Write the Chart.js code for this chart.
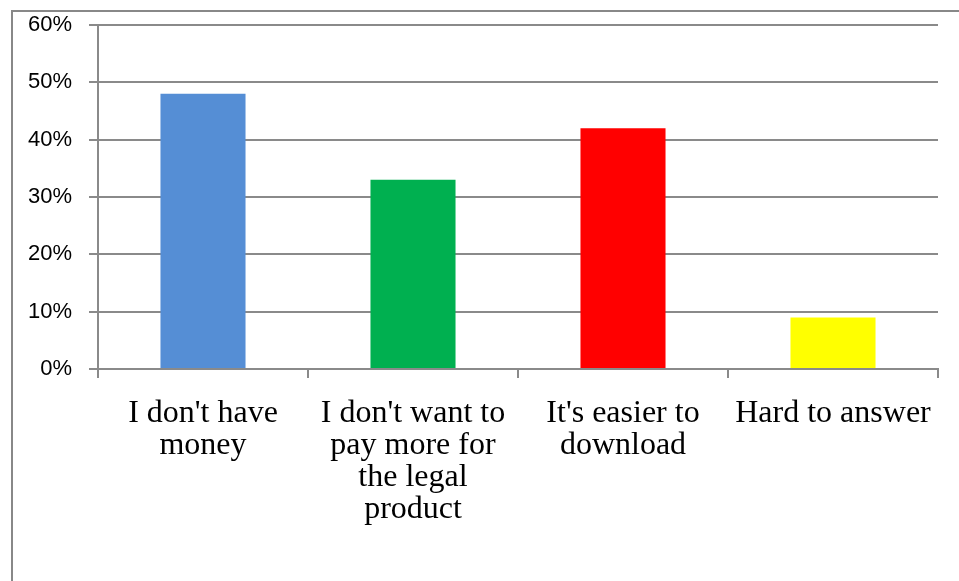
<!DOCTYPE html>
<html>
<head>
<meta charset="utf-8">
<script src="https://cdn.jsdelivr.net/npm/chart.js@4"></script>
<style>
  html, body { margin: 0; padding: 0; background: #fff; overflow: hidden; }
  #wrap { position: relative; width: 959px; height: 581px; }
  #frame { position: absolute; left: 11px; top: 10px; width: 2000px; height: 2000px; border: 2px solid #888; box-sizing: border-box; }
  canvas { position: absolute; left: 0; top: 0; }
</style>
</head>
<body>
<div id="wrap">
  <div id="frame"></div>
  <canvas id="reasons-chart" width="959" height="581"></canvas>
</div>
<script>
// Survey answers (share of respondents)
const categories = [
    ["I don't have", 'money'],
    ["I don't want to", 'pay more for', 'the legal', 'product'],
    ["It's easier to", 'download'],
    ['Hard to answer']
];
const shares = [48, 33, 42, 9];
const barColors = ['#558ED5', '#00B050', '#FF0000', '#FFFF00'];
const yTicks = [0, 10, 20, 30, 40, 50, 60];

const axisGray = '#8a8a8a';

const ctx = document.getElementById('reasons-chart').getContext('2d');
new Chart(ctx, {
    type: 'bar',
    data: {
        labels: categories,
        datasets: [{
            data: shares,
            backgroundColor: barColors,
            borderWidth: 0,
            categoryPercentage: 1,
            barPercentage: 0.405
        }]
    },
    options: {
        responsive: false,
        animation: false,
        layout: { padding: { left: 0, top: 25, right: 21, bottom: 0 } },
        plugins: { legend: { display: false }, tooltip: { enabled: false } },
        scales: {
            x: {
                afterFit: (scale) => { scale.height = 212; scale.paddingLeft = 0; scale.paddingRight = 0; },
                grid: {
                    offset: true,
                    drawOnChartArea: false,
                    color: axisGray,
                    lineWidth: 2,
                    tickLength: 9
                },
                border: { color: axisGray, width: 2 },
                ticks: {
                    color: '#000',
                    padding: 20,
                    maxRotation: 0,
                    autoSkip: false,
                    font: { family: '"Liberation Serif", "Times New Roman", serif', size: 32, lineHeight: 1.0 }
                }
            },
            y: {
                min: 0,
                max: 60,
                afterFit: (scale) => { scale.width = 98; scale.paddingTop = 0; scale.paddingBottom = 0; },
                afterBuildTicks: (scale) => { scale.ticks = yTicks.map(v => ({ value: v })); },
                grid: {
                    color: axisGray,
                    lineWidth: 2,
                    tickLength: 9
                },
                border: { color: axisGray, width: 2 },
                ticks: {
                    color: '#000',
                    padding: 17,
                    callback: (v) => v + '%',
                    font: { family: '"Liberation Sans", Arial, sans-serif', size: 22 }
                }
            }
        }
    }
});
</script>
</body>
</html>
